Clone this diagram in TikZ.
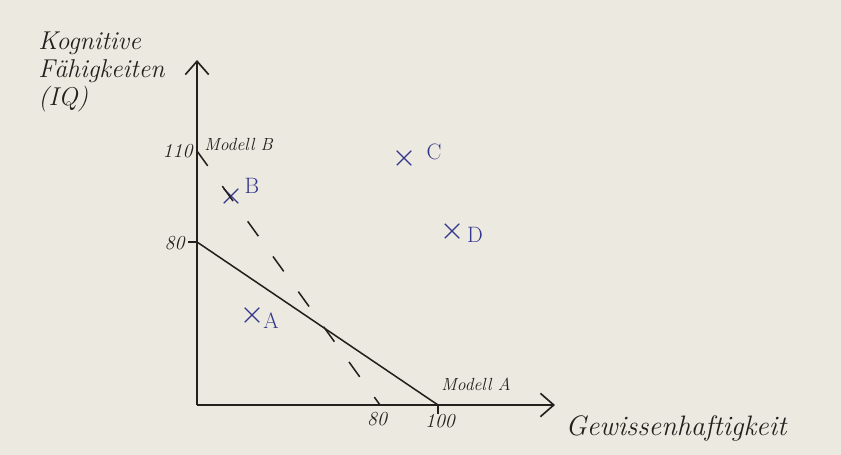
\documentclass[tikz,border=0pt]{standalone}
\usepackage{tikz}
\usetikzlibrary{arrows.meta,shapes.misc}
\definecolor{paper}{RGB}{236,233,224}
\definecolor{pen}{RGB}{35,32,30}
\definecolor{bluepen}{RGB}{50,54,140}

\begin{document}
\begin{tikzpicture}[x=0.03cm, y=-0.03cm,
   axis/.style={draw=pen, line width=1.4pt, -{Straight Barb[length=4mm,width=7mm]}},
   budget/.style={draw=pen, line width=1.3pt},
   budgetdash/.style={budget, dash pattern=on 0.55cm off 0.75cm},
   tick/.style={draw=pen, line width=1.2pt},
   hand/.style={text=pen, font=\itshape\fontsize{15}{17}\selectfont, inner sep=1pt},
   cross/.style={cross out, draw=bluepen, line width=1pt, minimum size=0.4cm, inner sep=0pt},
   ptlabel/.style={text=bluepen, font=\fontsize{19}{21}\selectfont, inner sep=1pt}
]
\fill[paper] (0,0) rectangle (841,455);

% Coordinates
\coordinate (origin) at (197,405);
\coordinate (ytip) at (197,60);
\coordinate (xtip) at (555,405);
\coordinate (y110) at (197,151);
\coordinate (y80) at (197,242);
\coordinate (y80l) at (188,242);
\coordinate (x80) at (380,405);
\coordinate (x100) at (438,405);
\coordinate (x100b) at (438,414);

% Nodes
\node [hand, font=\itshape\fontsize{22}{24}\selectfont, align=left, anchor=north west] (ylab) at (37,30) {Kognitive\\F\"ahigkeiten\\(IQ)};
\node [hand, font=\itshape\fontsize{24}{26}\selectfont] (xlab) at (676,428) {Gewissenhaftigkeit};
\node [hand, font=\itshape\fontsize{17}{19}\selectfont, anchor=east] (l110) at (194,151) {110};
\node [hand, font=\itshape\fontsize{17}{19}\selectfont, anchor=east] (l80y) at (186,243) {80};
\node [hand, font=\itshape\fontsize{17}{19}\selectfont] (l80x) at (377,419) {80};
\node [hand, font=\itshape\fontsize{17}{19}\selectfont] (l100) at (440,421) {100};
\node [hand, anchor=west] (modB) at (203,144) {Modell B};
\node [hand] (modA) at (476,384) {Modell A};

\node [cross] (ptA) at (252,315) {};
\node [cross] (ptB) at (231,196) {};
\node [cross] (ptC) at (404,158) {};
\node [cross] (ptD) at (452,231) {};
\node [ptlabel] (labA) at (271,321) {A};
\node [ptlabel] (labB) at (252,186) {B};
\node [ptlabel] (labC) at (434,152) {C};
\node [ptlabel] (labD) at (475,235) {D};

% Connections
\draw [axis] (origin) -- (ytip);
\draw [axis] (origin) -- (xtip);
\draw [tick] (y80l) -- (y80);
\draw [tick] (x100) -- (x100b);
\draw [budget] (y80) -- (x100);
\draw [budgetdash] (y110) -- (x80);

\end{tikzpicture}
\end{document}
